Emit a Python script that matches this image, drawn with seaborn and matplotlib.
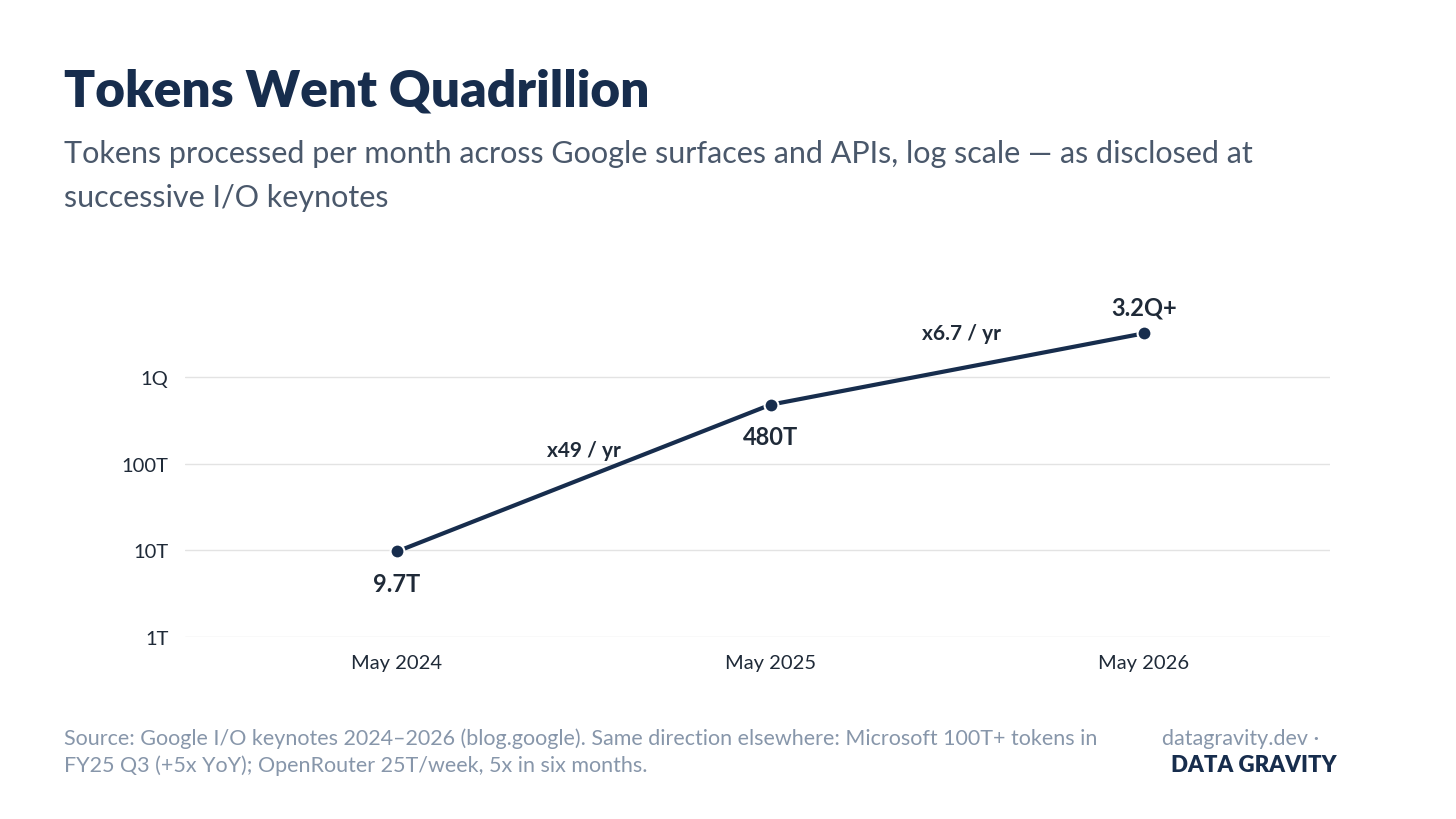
import matplotlib
matplotlib.use("Agg")
import matplotlib.pyplot as plt
import seaborn as sns
import pandas as pd

dates = ["May 2024", "May 2025", "May 2026"]
tokens = [9.7e12, 480e12, 3.2e15]
point_labels = ["9.7T", "480T", "3.2Q+"]
growth_labels = ["x49 / yr", "x6.7 / yr"]
ytick_vals = [1e12, 1e13, 1e14, 1e15]
ytick_labels = ["1T", "10T", "100T", "1Q"]

navy = "#172d4d"
sns.set_style("white")
plt.rcParams["font.family"] = ["Lato", "DejaVu Sans"]

df = pd.DataFrame({"x": range(len(dates)), "tokens": tokens})

fig = plt.figure(figsize=(14.56, 8.2), dpi=100)
ax = fig.add_axes([0.127, 0.222, 0.7865, 0.412])
sns.lineplot(data=df, x="x", y="tokens", ax=ax, color=navy, lw=3,
             marker="o", markersize=10, markeredgecolor="white", markeredgewidth=1.5)
ax.set_yscale("log")
ax.set_ylim(1e12, 10 ** 15.9)
ax.set_xlim(-0.568, 2.498)
ax.set_yticks(ytick_vals)
ax.set_yticklabels(ytick_labels)
ax.set_xticks(range(len(dates)))
ax.set_xticklabels(dates)
ax.minorticks_off()
ax.tick_params(axis="both", labelsize=14.5, colors="#1f2a38", length=0, pad=12)
ax.grid(axis="y", color="#e3e3e3", lw=1)
ax.set_xlabel("")
ax.set_ylabel("")
for s in ax.spines.values():
    s.set_visible(False)

# point labels
offsets = [(0, -23), (0, -23), (0, 19)]
for i, (v, lab) in enumerate(zip(tokens, point_labels)):
    ax.annotate(lab, (i, v), xytext=offsets[i], textcoords="offset points",
                ha="center", va="center", fontsize=17, fontweight="bold", color="#1f2a38")

# growth labels
ax.annotate(growth_labels[0], (0.5, (tokens[0] * tokens[1]) ** 0.5), xytext=(0, 20),
            textcoords="offset points", ha="center", va="center",
            fontsize=15, fontweight="bold", color="#1f2a38")
ax.annotate(growth_labels[1], (1.5, (tokens[1] * tokens[2]) ** 0.5), xytext=(3, 26),
            textcoords="offset points", ha="center", va="center",
            fontsize=15, fontweight="bold", color="#1f2a38")

fig.text(0.044, 0.888, "Tokens Went Quadrillion", fontsize=37, fontweight="heavy",
         color=navy, va="center")
fig.text(0.044, 0.812, "Tokens processed per month across Google surfaces and APIs, log scale — as disclosed at",
         fontsize=22, color="#4a586b", va="center")
fig.text(0.044, 0.759, "successive I/O keynotes", fontsize=22, color="#4a586b", va="center")

foot = "#8796aa"
fig.text(0.044, 0.099, "Source: Google I/O keynotes 2024–2026 (blog.google). Same direction elsewhere: Microsoft 100T+ tokens in",
         fontsize=15.5, color=foot, va="center")
fig.text(0.044, 0.066, "FY25 Q3 (+5x YoY); OpenRouter 25T/week, 5x in six months.",
         fontsize=15.5, color=foot, va="center")
fig.text(0.798, 0.099, "datagravity.dev ·", fontsize=15.5, color=foot, va="center")
fig.text(0.804, 0.066, "DATA GRAVITY", fontsize=16, fontweight="heavy", color=navy, va="center")

fig.savefig("out.png", dpi=100, facecolor="white")
